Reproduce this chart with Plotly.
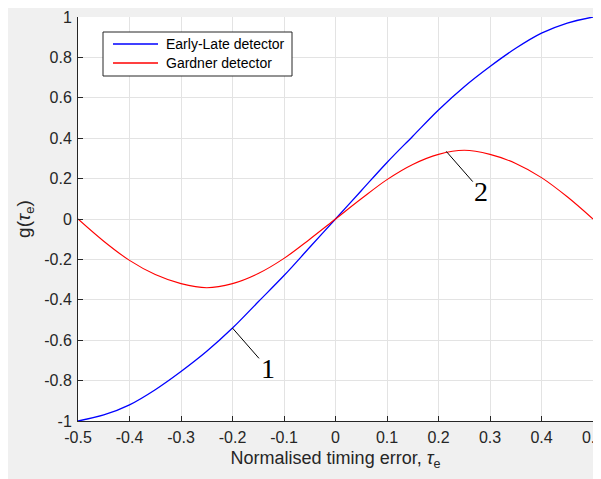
import plotly.graph_objects as go

# ---- data ----
tau = [-0.5, -0.45, -0.4, -0.35, -0.3, -0.25, -0.2, -0.15, -0.1, -0.05, 0.0,
       0.05, 0.1, 0.15, 0.2, 0.25, 0.3, 0.35, 0.4, 0.45, 0.5]
early_late = [-1.0, -0.97, -0.92, -0.845, -0.755, -0.655, -0.54, -0.41, -0.28, -0.14, 0.0,
              0.14, 0.28, 0.41, 0.54, 0.655, 0.755, 0.845, 0.92, 0.97, 1.0]
gardner = [0.0, -0.11, -0.205, -0.275, -0.32, -0.34, -0.32, -0.27, -0.195, -0.1, 0.0,
           0.1, 0.195, 0.27, 0.32, 0.34, 0.32, 0.275, 0.205, 0.11, 0.0]

x_ticks = [-0.5, -0.4, -0.3, -0.2, -0.1, 0.0, 0.1, 0.2, 0.3, 0.4, 0.5]
x_tick_labels = ["-0.5", "-0.4", "-0.3", "-0.2", "-0.1", "0", "0.1", "0.2", "0.3", "0.4", "0.5"]
y_ticks = [-1.0, -0.8, -0.6, -0.4, -0.2, 0.0, 0.2, 0.4, 0.6, 0.8, 1.0]
y_tick_labels = ["-1", "-0.8", "-0.6", "-0.4", "-0.2", "0", "0.2", "0.4", "0.6", "0.8", "1"]

series_names = ["Early-Late detector", "Gardner detector"]
series_colors = ["#0000ff", "#ff0000"]

# pointer annotations: (label, tau, value on curve)
pointers = [("1", -0.2, -0.54), ("2", 0.215, 0.335)]

OFF = 8                      # page body margin
W, H = 601 - OFF, 479 - OFF
L, R, T, B = 78 - OFF, 8, 17 - OFF, 58
pw, ph = W - L - R, H - T - B

def px_x(p):
    return (p - OFF - L) / pw

def px_y(p):
    return (H - B - (p - OFF)) / ph

fig = go.Figure()
fig.add_trace(go.Scatter(x=tau, y=early_late, mode="lines", name=series_names[0],
                         line=dict(color=series_colors[0], width=1.3, shape="spline")))
fig.add_trace(go.Scatter(x=tau, y=gardner, mode="lines", name=series_names[1],
                         line=dict(color=series_colors[1], width=1.1, shape="spline")))

sans = "Liberation Sans, Arial, sans-serif"
axis_font = dict(family=sans, size=16, color="#262626")

fig.update_layout(
    width=W, height=H,
    margin=dict(l=L, r=R, t=T, b=B, autoexpand=False),
    paper_bgcolor="#f0f0f0",
    plot_bgcolor="#ffffff",
    font=axis_font,
    showlegend=False,
    xaxis=dict(range=[-0.5, 0.5], tickvals=x_ticks, ticktext=x_tick_labels,
               showgrid=True, gridcolor="#e3e3e3", gridwidth=1, zeroline=False,
               showline=True, linecolor="#262626", linewidth=1,
               ticks="inside", ticklen=5, tickcolor="#262626", ticklabelstandoff=2,
               ticklabeloverflow="allow", tickfont=axis_font,
               title=dict(text="Normalised timing error, <i>τ</i><sub>e</sub>",
                          font=dict(family=sans, size=18, color="#262626"), standoff=6)),
    yaxis=dict(range=[-1, 1], tickvals=y_ticks, ticktext=y_tick_labels,
               showgrid=True, gridcolor="#e3e3e3", gridwidth=1, zeroline=False,
               showline=True, linecolor="#262626", linewidth=1,
               ticks="inside", ticklen=5, tickcolor="#262626", ticklabelstandoff=2,
               tickfont=axis_font,
               title=dict(text="g(<i>τ</i><sub>e</sub>)",
                          font=dict(family=sans, size=19, color="#262626"), standoff=8)),
)

# legend box (drawn by hand to match the reference's compact layout)
fig.add_shape(type="rect", xref="paper", yref="paper",
              x0=px_x(103), x1=px_x(292), y0=px_y(76), y1=px_y(32),
              fillcolor="#ffffff", line=dict(color="#262626", width=1), layer="above")
for i, (name, color) in enumerate(zip(series_names, series_colors)):
    yy = px_y(44 + 19 * i)
    fig.add_shape(type="line", xref="paper", yref="paper",
                  x0=px_x(113), x1=px_x(158), y0=yy, y1=yy,
                  line=dict(color=color, width=1.3), layer="above")
    fig.add_annotation(x=px_x(164), y=yy, xref="paper", yref="paper", text=name,
                       showarrow=False, xanchor="left", yanchor="middle",
                       font=dict(family=sans, size=14, color="#000000"))

for label, px_, py_ in pointers:
    fig.add_annotation(x=px_, y=py_, xref="x", yref="y", text=label,
                       showarrow=True, arrowhead=0, arrowwidth=1, arrowcolor="#000000",
                       ax=35, ay=40,
                       font=dict(family="Liberation Serif, Times New Roman, serif",
                                 size=28, color="#000000"))

fig.write_html("out.html")
